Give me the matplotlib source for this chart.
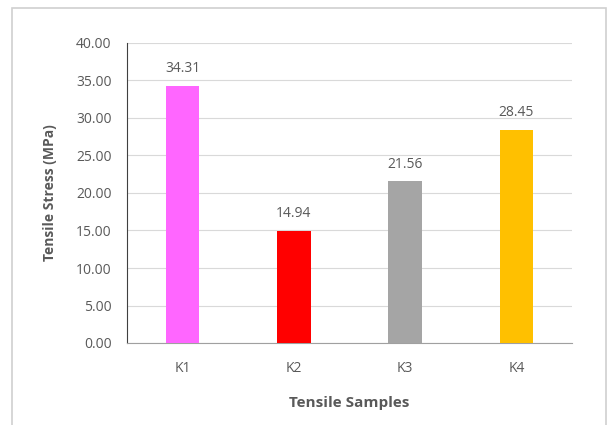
import matplotlib.pyplot as plt
from matplotlib.patches import Rectangle

# tensile test results for the four samples
samples = ["K1", "K2", "K3", "K4"]
stress = [34.31, 14.94, 21.56, 28.45]
bar_colors = ["#FF66FF", "#FF0000", "#A5A5A5", "#FFC000"]
y_ticks = [0, 5, 10, 15, 20, 25, 30, 35, 40]

W, H = 611, 425
fig = plt.figure(figsize=(W / 100, H / 100), dpi=100)
plt.rcParams['font.family'] = ['Open Sans', 'DejaVu Sans']

# light frame around the chart area
fig.patches.append(Rectangle((12 / W, -0.01), (606 - 12) / W, 1 - 8 / H + 0.01,
                             transform=fig.transFigure, fill=False,
                             edgecolor="#D0D0D0", linewidth=1.2))

ax = fig.add_axes([127 / W, 1 - 343 / H, (572 - 127) / W, (343 - 43) / H])

x = range(len(samples))
bars = ax.bar(x, stress, width=0.3, color=bar_colors, zorder=3)
for b, v in zip(bars, stress):
    ax.text(b.get_x() + b.get_width() / 2, v + 1.3, f"{v:.2f}",
            ha="center", va="bottom", fontsize=10, color="#595959")

ax.set_xlim(-0.5, len(samples) - 0.5)
ax.set_ylim(0, 40)
ax.set_yticks(y_ticks)
ax.set_yticklabels([f"{t:.2f}" for t in y_ticks])
ax.set_xticks(list(x))
ax.set_xticklabels(samples)
ax.tick_params(axis="both", length=0, labelsize=10, labelcolor="#595959")
ax.tick_params(axis="y", pad=11)
ax.tick_params(axis="x", pad=13)

ax.grid(axis="y", color="#D9D9D9", linewidth=0.8, zorder=0)
for s in ["top", "right"]:
    ax.spines[s].set_visible(False)
ax.spines["left"].set_color("#404040")
ax.spines["bottom"].set_color("#A0A0A0")

ax.set_xlabel("Tensile Samples", fontsize=11, fontweight="bold",
              color="#595959", labelpad=14)
ax.set_ylabel("Tensile Stress (MPa)", fontsize=10, fontweight="bold",
              color="#595959", labelpad=14)

fig.savefig("out.png", dpi=100)
